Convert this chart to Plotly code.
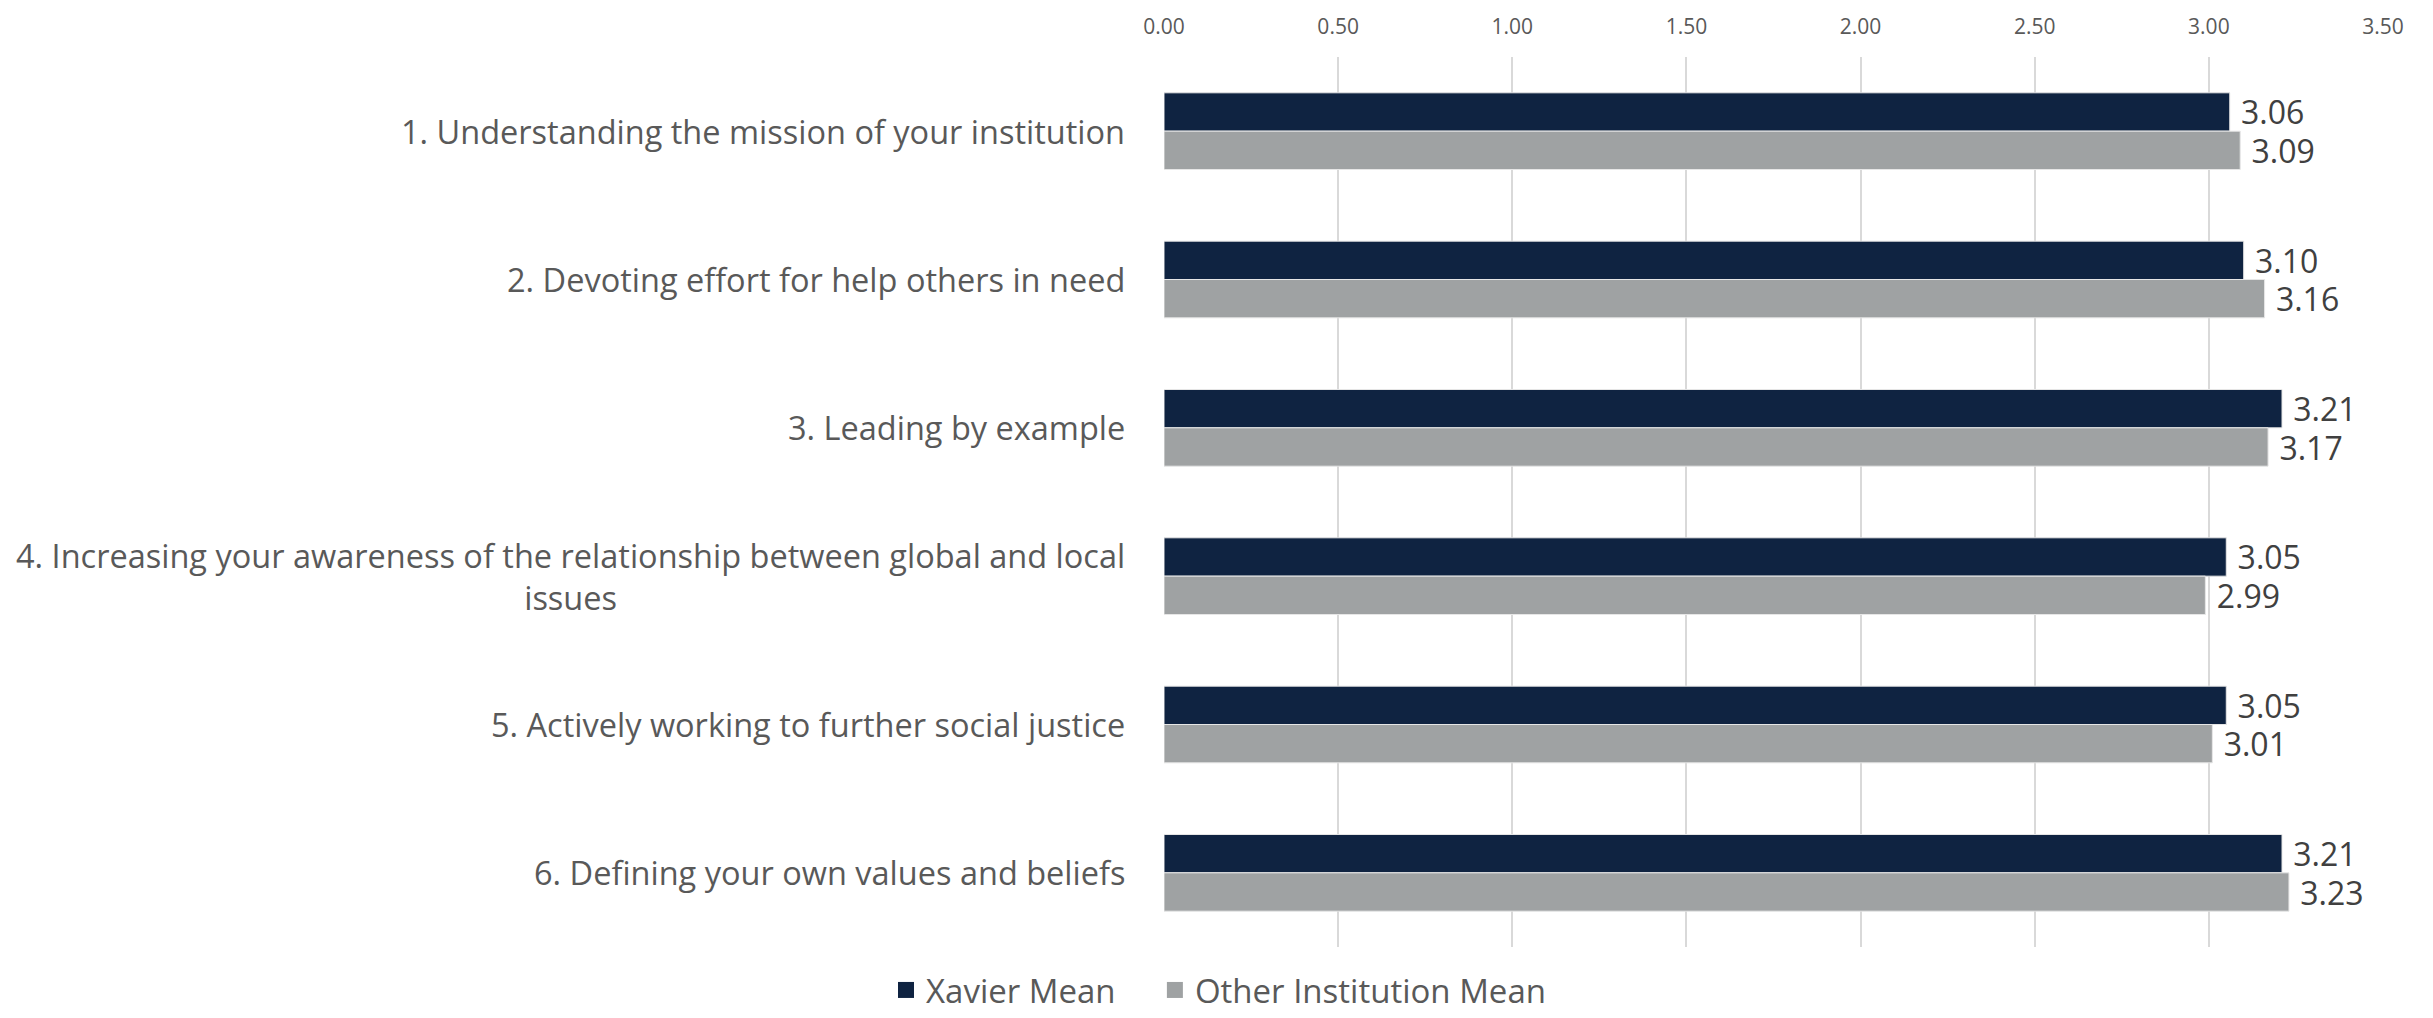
import plotly.graph_objects as go

categories = [
    "1. Understanding the mission of your institution",
    "2. Devoting effort for help others in need",
    "3. Leading by example",
    "4. Increasing your awareness of the relationship between global and local<br>issues",
    "5. Actively working to further social justice",
    "6. Defining your own values and beliefs",
]
xavier_mean = [3.06, 3.10, 3.21, 3.05, 3.05, 3.21]
other_mean = [3.09, 3.16, 3.17, 2.99, 3.01, 3.23]
series_names = ["Xavier Mean", "Other Institution Mean"]
x_tickvals = [0, 0.5, 1.0, 1.5, 2.0, 2.5, 3.0, 3.5]

FONT = "Open Sans"
navy = "#0F2341"
gray = "#9FA2A3"

fig = go.Figure()
for name, vals, col in [(series_names[0], xavier_mean, navy), (series_names[1], other_mean, gray)]:
    fig.add_trace(go.Bar(
        y=categories, x=vals, name=name, orientation="h",
        marker=dict(color=col, line=dict(color="#E6E6E6", width=1)),
        text=vals, texttemplate="\u00a0%{x:.2f}", textposition="outside",
        textfont=dict(family=FONT, size=32, color="#404040"),
        constraintext="none", cliponaxis=False, showlegend=False,
        legendgroup=name,
    ))

# legend entries with larger square symbols
pads = ["\u00a0" * 4, ""]
for name, col, pad in [(series_names[0], navy, pads[0]), (series_names[1], gray, pads[1])]:
    fig.add_trace(go.Scatter(
        x=[None], y=[None], mode="markers", name=name + pad, legendgroup=name,
        marker=dict(symbol="square", size=16, color=col), showlegend=True,
    ))

for c in categories:
    fig.add_annotation(
        x=0, xref="paper", y=c, yref="y", text=c, showarrow=False,
        xanchor="right", yanchor="middle", align="center", xshift=-37,
        font=dict(family=FONT, size=32.5, color="#595959"),
    )

fig.update_layout(
    width=2433, height=1018,
    paper_bgcolor="white", plot_bgcolor="white",
    margin=dict(l=1164, r=50, t=51, b=71),
    barmode="group", bargap=0.483, bargroupgap=0,
    font=dict(family=FONT, color="#595959"),
    showlegend=True,
    legend=dict(orientation="h", xref="container", yref="container",
                x=886 / 2433, xanchor="left", y=0, yanchor="bottom",
                font=dict(family=FONT, size=33, color="#595959"),
                traceorder="normal", itemsizing="trace"),
    xaxis=dict(side="top", range=[0, 3.5], tickvals=x_tickvals, tickformat=".2f",
               showgrid=True, gridcolor="#D9D9D9", gridwidth=1.5, zeroline=False,
               showline=False, ticks="", ticklabelstandoff=18,
               tickfont=dict(family=FONT, size=21, color="#595959")),
    yaxis=dict(autorange="reversed", showticklabels=False, showgrid=False,
               zeroline=False, showline=False, ticks=""),
)

fig.write_html("out.html", config={"displayModeBar": False},
               post_script="document.body.style.margin='0';")
